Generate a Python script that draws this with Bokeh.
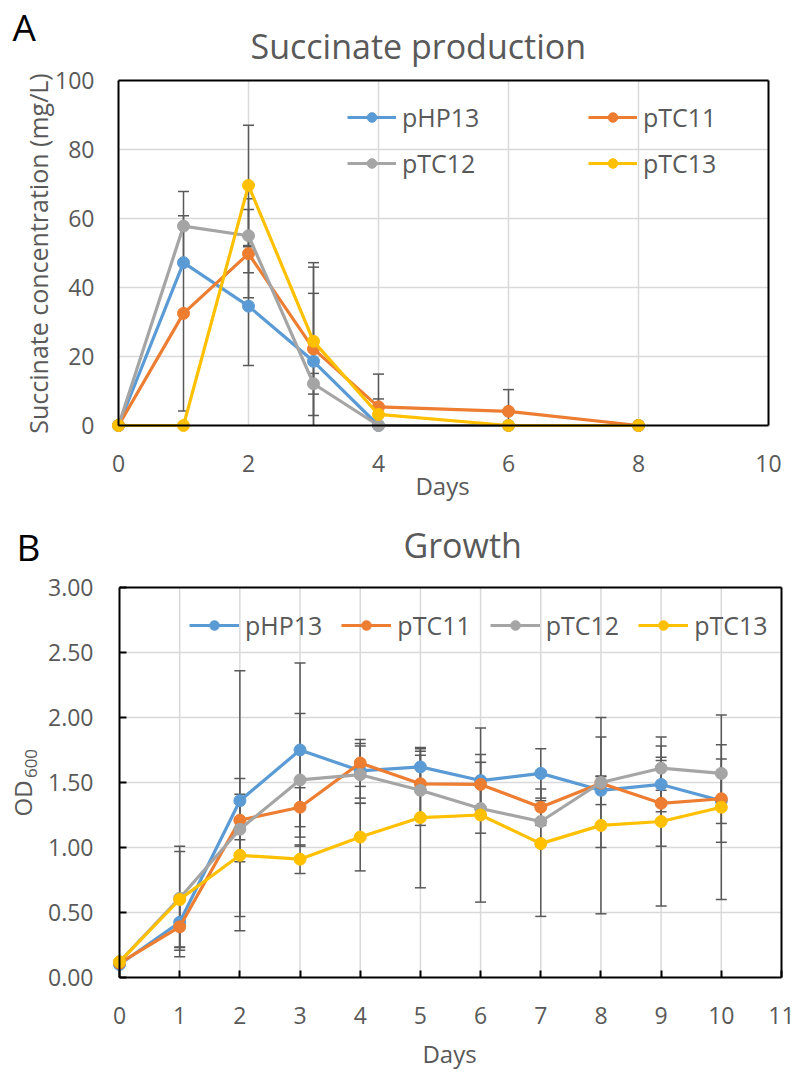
import numpy as np
from bokeh.plotting import figure
from bokeh.layouts import column
from bokeh.models import (Range1d, Legend, LegendItem, FixedTicker, NumeralTickFormatter)
from bokeh.core.properties import value
from bokeh.embed import file_html
from bokeh.resources import INLINE

FONT = "Open Sans"
TXT = "#595959"
ERR = "#595959"
GRID = "#d9d9d9"

series = ["pHP13", "pTC11", "pTC12", "pTC13"]
colors = ["#5b9bd5", "#ed7d31", "#a5a5a5", "#ffc000"]

# ---- Panel A: succinate production ----
days_a = [0, 1, 2, 3, 4, 6, 8]
succ = {
    "pHP13": [0, 47.2, 34.6, 18.6, 0, 0, 0],
    "pTC11": [0, 32.5, 49.8, 22.2, 5.4, 4.1, 0],
    "pTC12": [0, 57.8, 55.0, 12.1, 0, 0, 0],
    "pTC13": [0, 0, 69.6, 24.4, 3.2, 0, 0],
}
succ_err = {
    "pHP13": [0, 0, 17.2, 19.7, 0, 0, 0],
    "pTC11": [0, 28.3, 12.8, 25.0, 9.5, 6.3, 0],
    "pTC12": [0, 10.0, 10.7, 3.0, 0, 0, 0],
    "pTC13": [0, 0, 17.4, 21.5, 4.5, 0, 0],
}
ticks_a_x = [0, 2, 4, 6, 8, 10]
ticks_a_y = [0, 20, 40, 60, 80, 100]

# ---- Panel B: growth ----
days_b = [0, 1, 2, 3, 4, 5, 6, 7, 8, 9, 10]
od = {
    "pHP13": [0.10, 0.425, 1.36, 1.75, 1.59, 1.62, 1.515, 1.57, 1.44, 1.485, 1.36],
    "pTC11": [0.11, 0.39, 1.21, 1.31, 1.65, 1.49, 1.485, 1.31, 1.495, 1.34, 1.375],
    "pTC12": [0.12, 0.61, 1.14, 1.52, 1.56, 1.44, 1.30, 1.20, 1.50, 1.61, 1.57],
    "pTC13": [0.12, 0.60, 0.94, 0.91, 1.08, 1.23, 1.25, 1.03, 1.17, 1.20, 1.31],
}
od_err = {
    "pHP13": [0, 0.19, 1.00, 0.67, 0.21, 0.14, 0.20, 0.19, 0.11, 0.21, 0.32],
    "pTC11": [0, 0.23, 0.32, 0.15, 0.18, 0.25, 0.17, 0.14, 0.05, 0.33, 0.19],
    "pTC12": [0, 0.40, 0.08, 0.51, 0.22, 0.27, 0.19, 0.16, 0.50, 0.17, 0.22],
    "pTC13": [0, 0.37, 0.47, 0.11, 0.26, 0.54, 0.67, 0.56, 0.68, 0.65, 0.71],
}
ticks_b_x = list(range(0, 12))
ticks_b_y = [0, 0.5, 1.0, 1.5, 2.0, 2.5, 3.0]


def add_text(p, x, y, txt, size, color, align="left", angle=0.0):
    p.text(x=[x], y=[y], text=[txt], text_font=value(FONT), text_font_size=value(size),
           text_color=color, text_align=align, text_baseline="middle", angle=angle)


def setup_axes(p, xt, yt, tick_in, xstand, ystand, fmt=None):
    xmax, ymax = xt[-1], yt[-1]
    p.xgrid.visible = False
    p.ygrid.visible = False
    # grid lines inside the plot box
    p.segment(x0=xt[1:-1], y0=[0] * (len(xt) - 2), x1=xt[1:-1], y1=[ymax] * (len(xt) - 2),
              line_color=GRID, line_width=1.5)
    p.segment(x0=[0] * (len(yt) - 2), y0=yt[1:-1], x1=[xmax] * (len(yt) - 2), y1=yt[1:-1],
              line_color=GRID, line_width=1.5)
    # top and right border of the plot box
    p.segment(x0=[0, xmax], y0=[ymax, 0], x1=[xmax, xmax], y1=[ymax, ymax],
              line_color="black", line_width=2)
    xa, ya = p.xaxis[0], p.yaxis[0]
    xa.fixed_location = 0
    ya.fixed_location = 0
    xa.bounds = (0, xmax)
    ya.bounds = (0, ymax)
    xa.ticker = FixedTicker(ticks=xt)
    ya.ticker = FixedTicker(ticks=yt)
    if fmt:
        ya.formatter = NumeralTickFormatter(format=fmt)
    for ax in (xa, ya):
        ax.axis_line_color = "black"
        ax.axis_line_width = 2
        ax.major_tick_line_color = "black" if tick_in else None
        ax.major_tick_line_width = 2
        ax.major_tick_in = tick_in
        ax.major_tick_out = 0
        ax.minor_tick_line_color = None
        ax.major_label_text_font = FONT
        ax.major_label_text_color = TXT
        ax.major_label_text_font_size = "23px"
    xa.major_label_standoff = xstand
    ya.major_label_standoff = ystand
    p.outline_line_color = None


def draw(p, days, vals, errs):
    for s in series:
        v = np.array(vals[s], dtype=float)
        e = np.array(errs[s], dtype=float)
        d = np.array(days, dtype=float)
        m = e > 0
        lo = np.maximum(v[m] - e[m], 0)
        p.segment(x0=d[m], y0=lo, x1=d[m], y1=v[m] + e[m],
                  line_color=ERR, line_width=1.5)
        p.scatter(x=d[m], y=v[m] + e[m], marker="dash", size=11,
                  line_color=ERR, line_width=1.5)
        neg = (v[m] - e[m]) >= 0
        p.scatter(x=d[m][neg], y=(v[m] - e[m])[neg], marker="dash", size=11,
                  line_color=ERR, line_width=1.5)
    items = {}
    for s, c in zip(series, colors):
        r1 = p.line(days, vals[s], line_color=c, line_width=3.2, line_join="round")
        r2 = p.scatter(days, vals[s], marker="circle", size=12,
                       fill_color=c, line_color=c)
        items[s] = LegendItem(label=s, renderers=[r1, r2])
    return items


def make_legend(items, ncols, glyph_w, label_w, spacing, loc):
    return Legend(items=items, location=loc, ncols=ncols,
                  glyph_width=glyph_w, glyph_height=24, label_height=24,
                  label_width=label_w, label_standoff=6, spacing=spacing,
                  padding=0, margin=0, border_line_color=None,
                  background_fill_alpha=0,
                  label_text_font=FONT, label_text_color=TXT,
                  label_text_font_size="25px")


# ---------- Figure A (frame covers the whole canvas) ----------
pxa, pya = 65.0, 3.45  # pixels per day, pixels per mg/L
p1 = figure(width=799, height=520, title=None,
            x_range=Range1d(-118 / pxa, 10 + 31 / pxa),
            y_range=Range1d(-95 / pya, 100 + 80 / pya),
            output_backend="svg", toolbar_location=None,
            min_border=0, min_border_left=0, min_border_right=0,
            min_border_top=0, min_border_bottom=0)
setup_axes(p1, ticks_a_x, ticks_a_y, 0, 29, 24)
it1 = draw(p1, days_a, succ, succ_err)
p1.add_layout(make_legend([it1["pHP13"], it1["pTC12"], it1["pTC11"], it1["pTC13"]],
                          2, 49, 174, 12, (347, 340)))
add_text(p1, -106 / pxa, 399 / pya, "A", "37px", "black")
add_text(p1, 132 / pxa, 379.5 / pya, "Succinate production", "34px", TXT)
add_text(p1, 324 / pxa, -60 / pya, "Days", "24px", TXT, align="center")
add_text(p1, -81 / pxa, 172 / pya, "Succinate concentration (mg/L)", "25px", TXT,
         align="center", angle=np.pi / 2)

# ---------- Figure B ----------
pxb, pyb = 662 / 11.0, 130.0
p2 = figure(width=799, height=554, title=None,
            x_range=Range1d(-119 / pxb, 11 + 18 / pxb),
            y_range=Range1d(-97 / pyb, 3 + 67 / pyb),
            output_backend="svg", toolbar_location=None,
            min_border=0, min_border_left=0, min_border_right=0,
            min_border_top=0, min_border_bottom=0)
setup_axes(p2, ticks_b_x, ticks_b_y, 7, 29, 26, fmt="0.00")
it2 = draw(p2, days_b, od, od_err)
p2.add_layout(make_legend([it2[s] for s in series], 4, 50, 10, 19, (189, 432)))
add_text(p2, -103 / pxb, 431 / pyb, "B", "37px", "black")
add_text(p2, 284 / pxb, 433 / pyb, "Growth", "34px", TXT)
add_text(p2, 330 / pxb, -76 / pyb, "Days", "24px", TXT, align="center")
add_text(p2, -97.5 / pxb, 179 / pyb, "OD", "24px", TXT, align="center", angle=np.pi / 2)
add_text(p2, -88.5 / pxb, 214 / pyb, "600", "17px", TXT, align="center", angle=np.pi / 2)

layout = column(p1, p2, spacing=0)
open("out.html", "w").write(file_html(layout, INLINE))
